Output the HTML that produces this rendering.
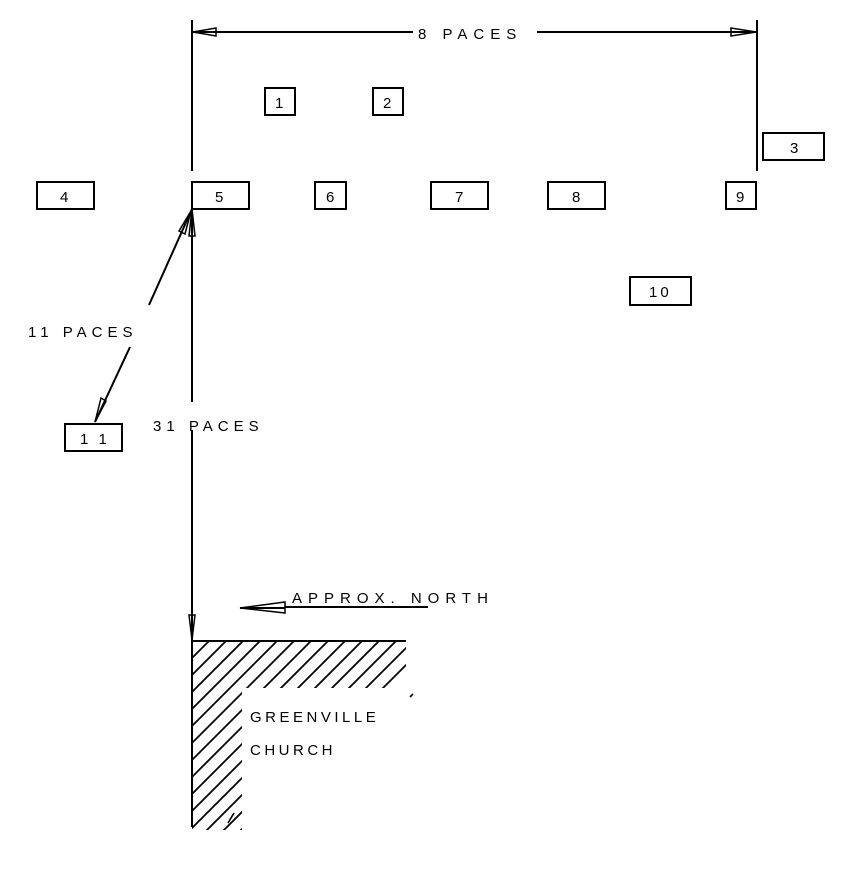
<!DOCTYPE html>
<html><head><meta charset="utf-8"><style>
html,body{margin:0;padding:0;background:#fff;width:861px;height:881px;overflow:hidden;}
svg{display:block;}
text{font-family:"Liberation Sans",sans-serif;font-size:15px;fill:#000;letter-spacing:3px;}
</style></head><body>
<svg width="861" height="881" viewBox="0 0 861 881" xmlns="http://www.w3.org/2000/svg">
<defs>
<clipPath id="hc"><polygon points="192,641 406,641 406,688 242,688 242,830 192,830"/></clipPath>
</defs>
<g stroke="#000" stroke-width="2" fill="none">
<line x1="192" y1="20" x2="192" y2="171"/>
<line x1="757" y1="20" x2="757" y2="171"/>
<line x1="192" y1="32" x2="413" y2="32"/>
<line x1="537" y1="32" x2="757" y2="32"/>
<polygon points="193,32 216,28 216,36" stroke-width="1.5"/>
<polygon points="756,32 731,28 731,36" stroke-width="1.5"/>
<rect x="265" y="88" width="30" height="27"/>
<rect x="373" y="88" width="30" height="27"/>
<rect x="763" y="133" width="61" height="27"/>
<rect x="37" y="182" width="57" height="27"/>
<rect x="192" y="182" width="57" height="27"/>
<rect x="315" y="182" width="31" height="27"/>
<rect x="431" y="182" width="57" height="27"/>
<rect x="548" y="182" width="57" height="27"/>
<rect x="726" y="182" width="30" height="27"/>
<rect x="630" y="277" width="61" height="28"/>
<rect x="65" y="424" width="57" height="27"/>
<line x1="192" y1="209" x2="192" y2="402"/>
<line x1="192" y1="430" x2="192" y2="641"/>
<polygon points="192,209 189,236 195,236" stroke-width="1.5"/>
<polygon points="192,640 189,615 195,615" stroke-width="1.5"/>
<line x1="192" y1="209" x2="149" y2="305"/>
<line x1="130" y1="347" x2="95" y2="422"/>
<polygon points="191,211 185,234 179,231" stroke-width="1.5"/>
<polygon points="95,422 101,398 106,401" stroke-width="1.5"/>
<line x1="285" y1="607" x2="428" y2="607"/>
<polygon points="240,608 285,602 285,613" stroke-width="1.5"/>
<line x1="240" y1="608" x2="285" y2="608"/>
<line x1="192" y1="641" x2="406" y2="641"/>
<line x1="192" y1="641" x2="192" y2="827"/>
<g clip-path="url(#hc)" stroke-width="1.8">
<path d="M209,641 l-190,190 M226,641 l-190,190 M243,641 l-190,190 M260,641 l-190,190 M277,641 l-190,190 M294,641 l-190,190 M311,641 l-190,190 M328,641 l-190,190 M345,641 l-190,190 M362,641 l-190,190 M379,641 l-190,190 M396,641 l-190,190 M413,641 l-190,190 M430,641 l-190,190"/>
</g>
<line x1="228" y1="823" x2="234" y2="813" stroke-width="1.6"/>
<line x1="410" y1="697" x2="413" y2="694" stroke-width="1.6"/>
</g>
<text x="418" y="39" font-size="17" style="letter-spacing:6px">8 PACES</text>
<text x="28" y="337" font-size="17" style="letter-spacing:5px">11 PACES</text>
<text x="153" y="431" font-size="17" style="letter-spacing:5px">31 PACES</text>
<text x="292" y="603" font-size="14" style="letter-spacing:6px">APPROX. NORTH</text>
<text x="250" y="722" font-size="14" style="letter-spacing:3.5px">GREENVILLE</text>
<text x="250" y="755" font-size="14" style="letter-spacing:3.5px">CHURCH</text>
<g style="letter-spacing:0">
<text x="275" y="108">1</text>
<text x="383" y="108">2</text>
<text x="790" y="153">3</text>
<text x="60" y="202">4</text>
<text x="215" y="202">5</text>
<text x="326" y="202">6</text>
<text x="455" y="202">7</text>
<text x="572" y="202">8</text>
<text x="736" y="202">9</text>
<text x="649" y="297">10</text>
<text x="80" y="444">1 1</text>
</g>
</svg>
</body></html>
